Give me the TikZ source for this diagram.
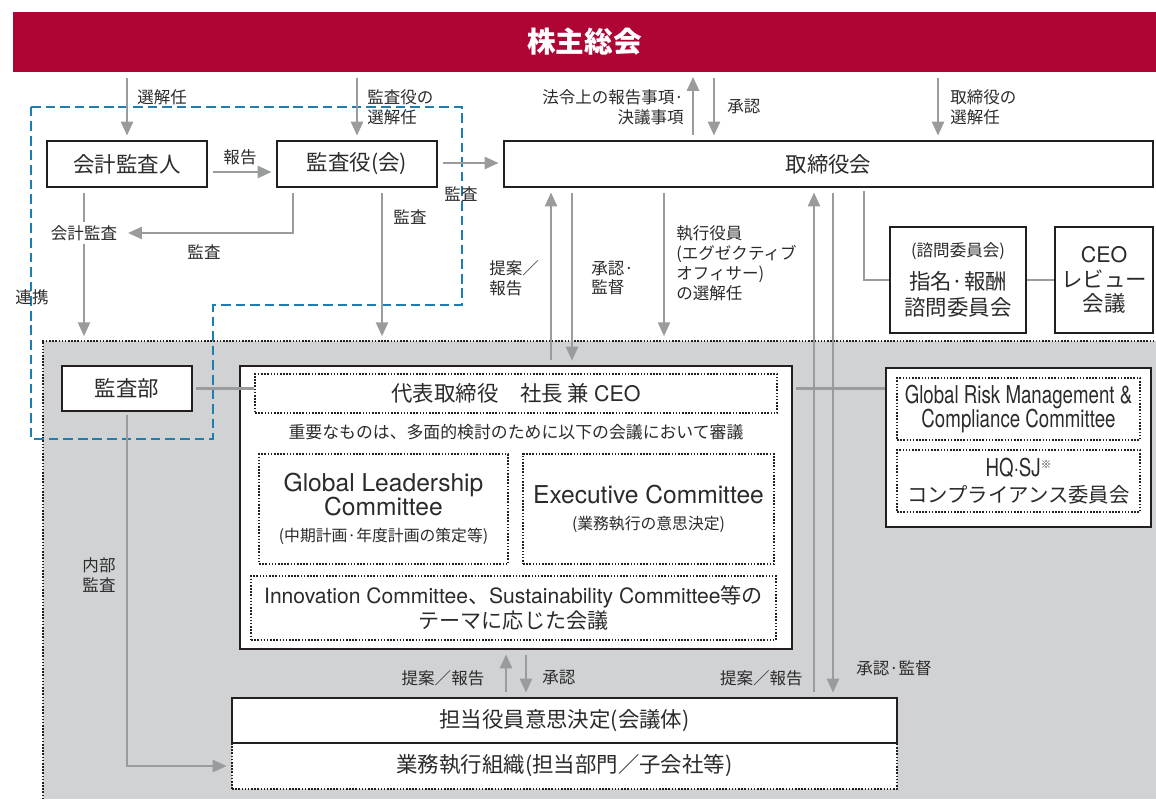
\documentclass[tikz,border=0pt]{standalone}
\usepackage{fontspec}
\setmainfont{Noto Sans CJK JP}
\newfontfamily\lat{TeX Gyre Heros}
\newfontfamily\latcond[FakeStretch=0.76]{TeX Gyre Heros}
\usepackage{tikz}
\usetikzlibrary{arrows.meta}
\usepackage{xcolor}

\definecolor{bannerred}{HTML}{AF0535}
\definecolor{areagray}{HTML}{D1D2D4}
\definecolor{arrgray}{HTML}{9A9B9D}
\definecolor{boxline}{HTML}{231F20}
\definecolor{txt}{HTML}{2B2B2B}
\definecolor{auditblue}{HTML}{1F7EB0}

\newcommand{\bigjp}{\fontsize{12.2pt}{14.6pt}\selectfont}
\newcommand{\labjp}{\fontsize{9.4pt}{11.3pt}\selectfont}
\newcommand{\midjp}{\fontsize{9.6pt}{11.5pt}\selectfont}
\newcommand{\smalljp}{\fontsize{9pt}{10pt}\selectfont\rmfamily}
\newcommand{\engl}{\fontsize{14pt}{13.6pt}\selectfont\lat}

\begin{document}
\begin{tikzpicture}[x=0.02cm, y=-0.02cm,
  every node/.style={text=txt, inner sep=0pt},
  box/.style={draw=boxline, line width=1.1pt, fill=white, align=center, font=\bigjp},
  dotbox/.style={draw=boxline, line width=1.1pt, dash pattern=on 0.9pt off 0.9pt, fill=white, align=center},
  garrow/.style={draw=arrgray, line width=1.6pt, -{Triangle[length=8pt,width=6.8pt]}, shorten >=2.5pt, shorten <=3pt},
  gline/.style={draw=arrgray, line width=1.6pt},
  dotline/.style={draw=boxline, line width=1.1pt, dash pattern=on 0.9pt off 0.9pt},
  bluedash/.style={draw=auditblue, line width=1.6pt, dash pattern=on 5.5pt off 2.8pt},
  lbl/.style={font=\labjp, align=left}]

\useasboundingbox (0,0) rectangle (1156,799);

% General meeting of shareholders
\node[fill=bannerred, minimum width=22.86cm, minimum height=1.2cm, text=white, font=\fontsize{16.3pt}{18pt}\selectfont\bfseries] (banner) at (584.5,42) {株主総会};

% Execution area
\node[fill=areagray, minimum width=22.26cm, minimum height=9.16cm] (field) at (599.5,570) {};
\draw[dotline] (field.south west) -- (field.north west) -- (field.north east);

% Audit scope
\draw[bluedash] (31,107) -- (462,107) -- (462,305) -- (213,305) -- (213,439) -- (31,439) -- cycle;

% Auditors and board
\node[box, minimum width=3.2cm, minimum height=0.92cm] (kaikei) at (127,164) {会計監査人};
\node[box, minimum width=3.2cm, minimum height=0.92cm] (kansayaku) at (357,164) {監査役(会)};
\node[box, minimum width=12.98cm, minimum height=0.92cm] (torishimari) at (828.5,164) {取締役会};

% Advisory committees
\node[box, minimum width=2.72cm, minimum height=2.12cm, font=\fontsize{12.2pt}{14.7pt}\selectfont] (shimon) at (958,280) {{\labjp(諮問委員会)}\\[4pt]指名·報酬\\諮問委員会};
\node[box, minimum width=1.96cm, minimum height=2.12cm, font=\fontsize{12.2pt}{13.9pt}\selectfont] (ceorev) at (1104,280) {{\lat CEO}\\レビュー\\会議};

% Audit department
\node[box, minimum width=2.6cm, minimum height=0.9cm] (kansabu) at (127,388.5) {監査部};

% CEO and meetings
\node[box, minimum width=11.04cm, minimum height=5.66cm] (ceo) at (516,507.5) {};
\node[dotbox, minimum width=10.44cm, minimum height=0.78cm, font=\bigjp] (ceotitle) at (516,393.5) {代表取締役　社長 兼 {\lat CEO}};
\node[font=\midjp] (jyuyo) at (516,432) {重要なものは、多面的検討のために以下の会議において審議};
\node[dotbox, minimum width=4.98cm, minimum height=2.2cm, font=\engl] (glc) at (383.5,509) {Global Leadership\\Committee\\[1pt]{\smalljp(中期計画·年度計画の策定等)}};
\node[dotbox, minimum width=5.02cm, minimum height=2.2cm, font=\engl] (exco) at (648.5,509) {Executive Committee\\[1pt]{\smalljp(業務執行の意思決定)}};
\node[dotbox, minimum width=10.5cm, minimum height=1.28cm, font=\fontsize{12pt}{14.7pt}\selectfont] (innov) at (513.5,608) {{\lat Innovation Committee}、{\lat Sustainability Committee}等の\\テーマに応じた会議};

% Compliance committees
\node[box, minimum width=5.3cm, minimum height=3.18cm] (grmcc) at (1018.5,447.5) {};
\node[dotbox, minimum width=4.86cm, minimum height=1.24cm, font=\fontsize{14pt}{13.6pt}\selectfont\latcond] (grm) at (1018.5,409) {Global Risk Management \&\\Compliance Committee};
\node[dotbox, minimum width=4.86cm, minimum height=1.24cm, font=\fontsize{11.6pt}{15pt}\selectfont] (hqsj) at (1018.5,481) {{\latcond\fontsize{14pt}{15pt}\selectfont HQ·SJ}\raisebox{.7ex}{\fontsize{6pt}{6pt}\selectfont ※}\\コンプライアンス委員会};

% Executive decision body
\node[dotbox, minimum width=13.3cm, minimum height=0.92cm, font=\bigjp] (gyomu) at (564.5,766) {業務執行組織(担当部門／子会社等)};
\node[box, minimum width=13.3cm, minimum height=0.9cm] (tanto) at (564.5,720.5) {担当役員意思決定(会議体)};

% Connections: general meeting
\draw[garrow] (banner.south -| kaikei) -- (kaikei);
\draw[garrow] (banner.south -| kansayaku) -- (kansayaku);
\draw[garrow] (torishimari.north -| 693,0) -- (banner.south -| 693,0);
\draw[garrow] (banner.south -| 714,0) -- (torishimari.north -| 714,0);
\draw[garrow] (banner.south -| 938,0) -- (torishimari.north -| 938,0);

% Connections: auditors
\draw[garrow] (kaikei.east |- 0,172) -- (kansayaku.west |- 0,172);
\draw[garrow] (kansayaku.east |- 0,163) -- (torishimari.west |- 0,163);
\draw[garrow] (kaikei.south -| 84,0) -- (field.north -| 84,0);
\node[lbl, fill=white, inner sep=2pt] (kaikeikansa) at (84,233) {会計監査};
\draw[garrow, shorten >=4pt] (kansayaku.south -| 293,0) |- (kaikeikansa.east);
\draw[garrow] (kansayaku.south -| 382,0) -- (field.north -| 382,0);

% Connections: board and execution
\draw[garrow] (ceo.north -| 551,0) -- (torishimari.south -| 551,0);
\draw[garrow] (torishimari.south -| 572,0) -- (ceo.north -| 572,0);
\draw[garrow] (torishimari.south -| 664,0) -- (field.north -| 664,0);
\draw[garrow] (tanto.north -| 814,0) -- (torishimari.south -| 814,0);
\draw[garrow] (torishimari.south -| 833,0) -- (tanto.north -| 833,0);
\draw[gline, shorten <=2pt] (torishimari.south -| 864,0) |- (shimon.west);
\draw[gline] (shimon.east) -- (ceorev.west);

% Connections: audit department, CEO, compliance
\draw[gline, shorten <=2pt] (kansabu.east) -- (ceotitle.west |- kansabu.east);
\draw[garrow, shorten <=2pt] (kansabu.south) |- (gyomu.west);
\draw[gline, shorten <=2pt] (ceo.east |- kansabu.east) -- (grmcc.west |- kansabu.east);
\draw[garrow] (tanto.north -| 506,0) -- (ceo.south -| 506,0);
\draw[garrow] (ceo.south -| 526,0) -- (tanto.north -| 526,0);

% Labels
\node[lbl, anchor=west] (l_senkai) at (137,97) {選解任};
\node[lbl, anchor=west] (l_kansasen) at (367,107) {監査役の\\選解任};
\node[lbl, anchor=east, align=right] (l_horei) at (684,107) {法令上の報告事項·\\決議事項};
\node[lbl, anchor=west] (l_shonin1) at (727,107) {承認};
\node[lbl, anchor=west] (l_torisen) at (950,107) {取締役の\\選解任};
\node[lbl] (l_hokoku) at (240,157) {報告};
\node[lbl] (l_kansa1) at (461,194) {監査};
\node[lbl] (l_kansa2) at (204,252) {監査};
\node[lbl] (l_kansa3) at (410,217) {監査};
\node[lbl] (l_renkei) at (32,297) {連携};
\node[lbl, anchor=west] (l_teian1) at (489,278) {提案／\\報告};
\node[lbl, anchor=west] (l_shonin2) at (591,278) {承認·\\監督};
\node[lbl, anchor=west] (l_shikko) at (676,263) {執行役員\\(エグゼクティブ\\オフィサー)\\の選解任};
\node[lbl, anchor=east] (l_teian2) at (803,678) {提案／報告};
\node[lbl, anchor=west] (l_shonin3) at (856,668) {承認·監督};
\node[lbl] (l_teian3) at (443,678) {提案／報告};
\node[lbl, anchor=west] (l_shonin4) at (542,678) {承認};
\node[lbl] (l_naibu) at (99,575) {内部\\監査};

\end{tikzpicture}
\end{document}
